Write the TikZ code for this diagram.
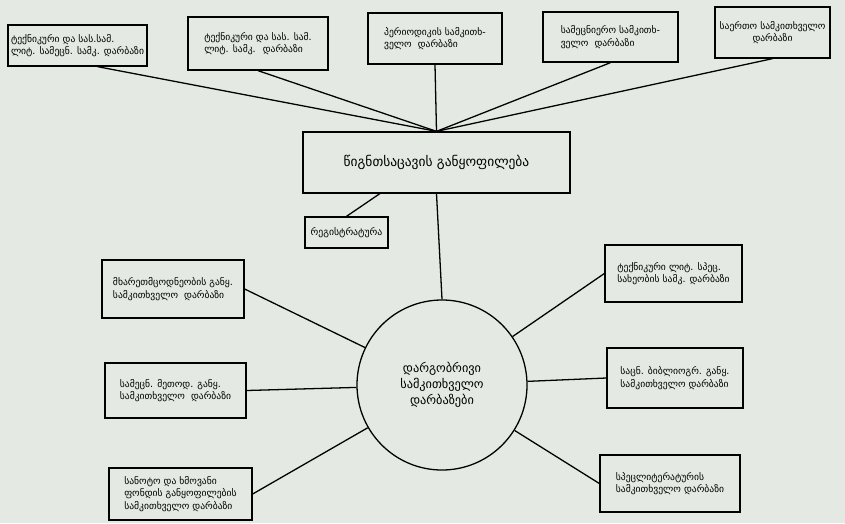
\documentclass[tikz,border=0pt]{standalone}
\usepackage{fontspec}
\newfontfamily\geo{DejaVu Sans}
\definecolor{paper}{RGB}{228,234,227}
\begin{document}
\begin{tikzpicture}[x=0.03cm, y=-0.03cm, line width=1.1pt,
    box/.style={draw, align=left, inner sep=1pt, font=\geo\fontsize{8.2}{10.5}\selectfont},
    hall/.style={draw, circle, minimum size=5.1cm, align=center, font=\geo\fontsize{10.5}{13.5}\selectfont}]
        \fill [paper] (0, 0) rectangle (845, 523);
        \useasboundingbox (0, 0) rectangle (845, 523);
        \node [box, minimum width=4.17cm, minimum height=1.23cm] (t1) at (77.5, 45.5) {ტექნიკური და სას.სამ.\\ლიტ. სამეცნ. სამკ. დარბაზი};
        \node [box, minimum width=4.2cm, minimum height=1.59cm] (t2) at (258, 43.5) {ტექნიკური და სას. სამ.\\ლიტ. სამკ. \ დარბაზი};
        \node [box, minimum width=4.02cm, minimum height=1.53cm] (t3) at (435, 38.5) {პერიოდიკის სამკითხ-\\ველო \ დარბაზი};
        \node [box, minimum width=4.05cm, minimum height=1.5cm] (t4) at (610.5, 37) {სამეცნიერო სამკითხ-\\ველო \ დარბაზი};
        \node [box, align=center, minimum width=3.45cm, minimum height=1.53cm] (t5) at (772.5, 32.5) {საერთო სამკითხველო\\დარბაზი};
        \node [box, align=center, minimum width=8.01cm, minimum height=1.83cm, font=\geo\fontsize{11.5}{14}\selectfont] (depot) at (436.5, 162.5) {წიგნთსაცავის განყოფილება};
        \node [box, minimum width=2.49cm, minimum height=0.93cm, font=\geo\fontsize{8.3}{10}\selectfont] (reg) at (346.5, 232.5) {რეგისტრატურა};
        \node [hall] (halls) at (442, 385) {დარგობრივი\\სამკითხველო\\დარბაზები};
        \node [box, minimum width=4.26cm, minimum height=1.74cm] (l1) at (173, 289) {მხარეთმცოდნეობის განყ.\\სამკითხველო \ დარბაზი};
        \node [box, minimum width=4.23cm, minimum height=1.65cm] (l2) at (175.5, 390.5) {სამეცნ. მეთოდ. განყ.\\სამკითხველო \ დარბაზი};
        \node [box, minimum width=4.29cm, minimum height=1.56cm] (l3) at (180.5, 494) {სანოტო და ხმოვანი\\ფონდის განყოფილების\\სამკითხველო დარბაზი};
        \node [box, minimum width=4.11cm, minimum height=1.71cm] (r1) at (673.5, 273.5) {ტექნიკური ლიტ. სპეც.\\სახეობის სამკ. დარბაზი};
        \node [box, minimum width=4.08cm, minimum height=1.8cm] (r2) at (675, 378) {საცნ. ბიბლიოგრ. განყ.\\სამკითხველო დარბაზი};
        \node [box, minimum width=4.2cm, minimum height=1.71cm] (r3) at (670, 483.5) {სპეცლიტერატურის\\სამკითხველო დარბაზი};
        \draw ([xshift=0.6cm]t1.south) -- (depot.north);
        \draw (t2.south) -- (depot.north);
        \draw (t3.south) -- (depot.north);
        \draw (t4.south) -- (depot.north);
        \draw (t5.south) -- (depot.north);
        \draw ([xshift=-1.7cm]depot.south) -- (reg.north);
        \draw (depot.south) -- (halls.north);
        \draw (l1.east) -- (halls);
        \draw (l2.east) -- (halls);
        \draw (l3.east) -- (halls);
        \draw (r1.west) -- (halls);
        \draw (r2.west) -- (halls);
        \draw (r3.west) -- (halls);
      \end{tikzpicture}
\end{document}
